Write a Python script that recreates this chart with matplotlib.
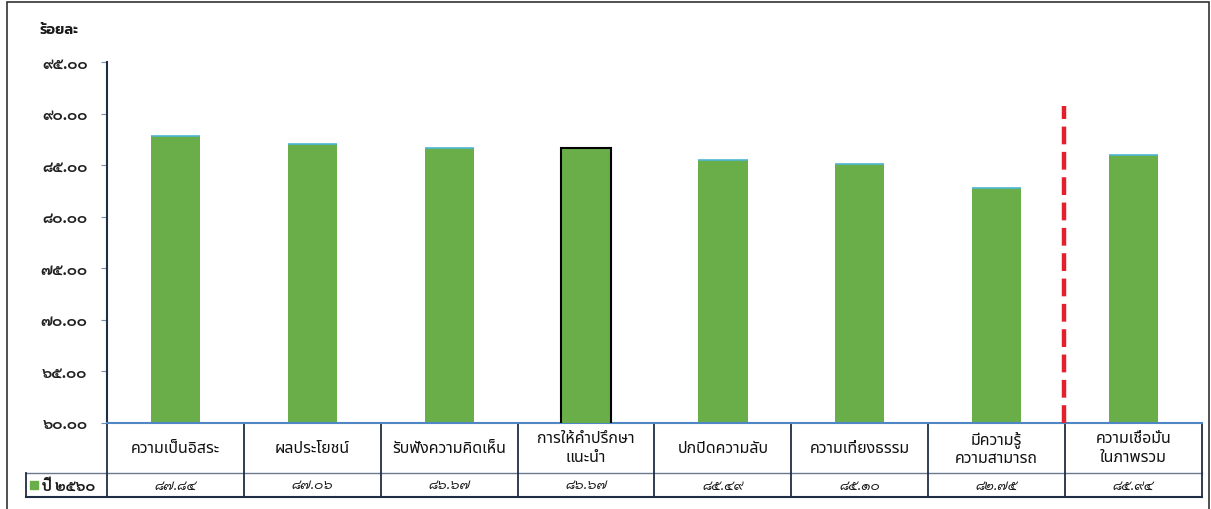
import matplotlib
matplotlib.use("Agg")
import matplotlib.pyplot as plt
from matplotlib.patches import Rectangle
import numpy as np

# data
categories = ["ความเป็นอิสระ", "ผลประโยชน์", "รับฟังความคิดเห็น",
              "การให้คำปรึกษา\nแนะนำ", "ปกปิดความลับ", "ความเที่ยงธรรม",
              "มีความรู้\nความสามารถ", "ความเชื่อมั่น\nในภาพรวม"]
values_2560 = [87.84, 87.06, 86.67, 86.67, 85.49, 85.10, 82.75, 85.94]
series_name = "ปี 2560"
y_ticks = [60, 65, 70, 75, 80, 85, 90, 95]
y_label = "ร้อยละ"
highlight = 3        # bar drawn with a black outline
divider_after = 6    # red dashed line between the 7th and 8th bar

THAI = str.maketrans("0123456789", "๐๑๒๓๔๕๖๗๘๙")
def th(s):
    return s.translate(THAI)

F_LABEL = ["Noto Sans Thai", "Noto Sans Thai UI", "DejaVu Sans"]
F_DIGIT = ["Sarabun", "Noto Sans Thai", "DejaVu Sans"]
F_HEAD = ["Kanit", "Bai Jamjuree", "Sarabun", "DejaVu Sans"]
GREEN = "#6aae4a"
NAVY = "#1f2d45"

fig = plt.figure(figsize=(12.11, 5.10), dpi=100)
ax = fig.add_axes([107/1211, 86/510, 1095/1211, 361/510])

x = np.arange(len(categories))
bars = ax.bar(x, values_2560, width=0.36, color=GREEN, zorder=2)
ax.hlines(values_2560, x - 0.18, x + 0.18, color="#4fb6d2", lw=1.2, zorder=3)
bars[highlight].set_edgecolor("black")
bars[highlight].set_linewidth(1.5)
bars[highlight].set_zorder(4)

ax.set_xlim(-0.5, len(categories) - 0.5)
ax.set_ylim(y_ticks[0], y_ticks[-1])
ax.set_yticks(y_ticks)
ax.set_yticklabels([th(f"{v:.2f}") for v in y_ticks], fontsize=11,
                   fontweight="bold", family=F_DIGIT, color="#222222")
ax.tick_params(axis="y", length=4, color="#7a8ca8", pad=10)
ax.set_xticks([])
for s in ["top", "right"]:
    ax.spines[s].set_visible(False)
ax.spines["left"].set_color(NAVY)
ax.spines["left"].set_linewidth(1.5)
ax.spines["bottom"].set_color("#4f86c6")
ax.spines["bottom"].set_linewidth(1.5)

# red dashed divider
ax.axvline(divider_after + 0.49, ymin=0, ymax=(90.7 - y_ticks[0]) / (y_ticks[-1] - y_ticks[0]),
           color="#e3202c", lw=3.2, dashes=(4, 1.7), zorder=4)

# data table under the chart
tr = ax.get_xaxis_transform()
r1 = -50 / 361
r2 = -74 / 361
left_cell = -0.5 - (107 - 26) / (1095 / 8)
n = len(categories)
ax.plot([left_cell, n - 0.5], [r1, r1], color="#6b7a90", lw=1, transform=tr, clip_on=False)
ax.plot([left_cell, n - 0.5], [r2, r2], color=NAVY, lw=1.5, transform=tr, clip_on=False)
for i in range(n + 1):
    ax.plot([i - 0.5, i - 0.5], [0, r2], color=NAVY, lw=1.3, transform=tr, clip_on=False)
ax.plot([left_cell, left_cell], [r1, r2], color=NAVY, lw=1.3, transform=tr, clip_on=False)

for i, (c, v) in enumerate(zip(categories, values_2560)):
    ax.text(i, r1 / 2, c, ha="center", va="center", fontsize=11.5, family=F_LABEL,
            color="#111111", linespacing=1.25, transform=tr)
    ax.text(i, (r1 + r2) / 2, th(f"{v:.2f}"), ha="center", va="center", fontsize=10,
            style="italic", family=F_DIGIT, color="#1a1a1a", transform=tr)

ax.plot([left_cell + 0.055], [(r1 + r2) / 2], marker="s", markersize=6, color=GREEN,
        transform=tr, clip_on=False)
ax.text(left_cell + 0.12, (r1 + r2) / 2, th(series_name), ha="left", va="center",
        fontsize=10.5, fontweight="bold", family=F_DIGIT, color="#1a1a1a", transform=tr)

fig.text(40/1211, 1 - 30/510, y_label, fontsize=10.5, fontweight="semibold",
         family=F_HEAD, va="center", ha="left", color="#1a1a1a")

fig.add_artist(Rectangle((7/1211, -0.05), 1202/1211, 1.05 - 3/510, fill=False,
                         edgecolor="#333333", lw=1.2, transform=fig.transFigure))

fig.savefig("out.png", dpi=100)
